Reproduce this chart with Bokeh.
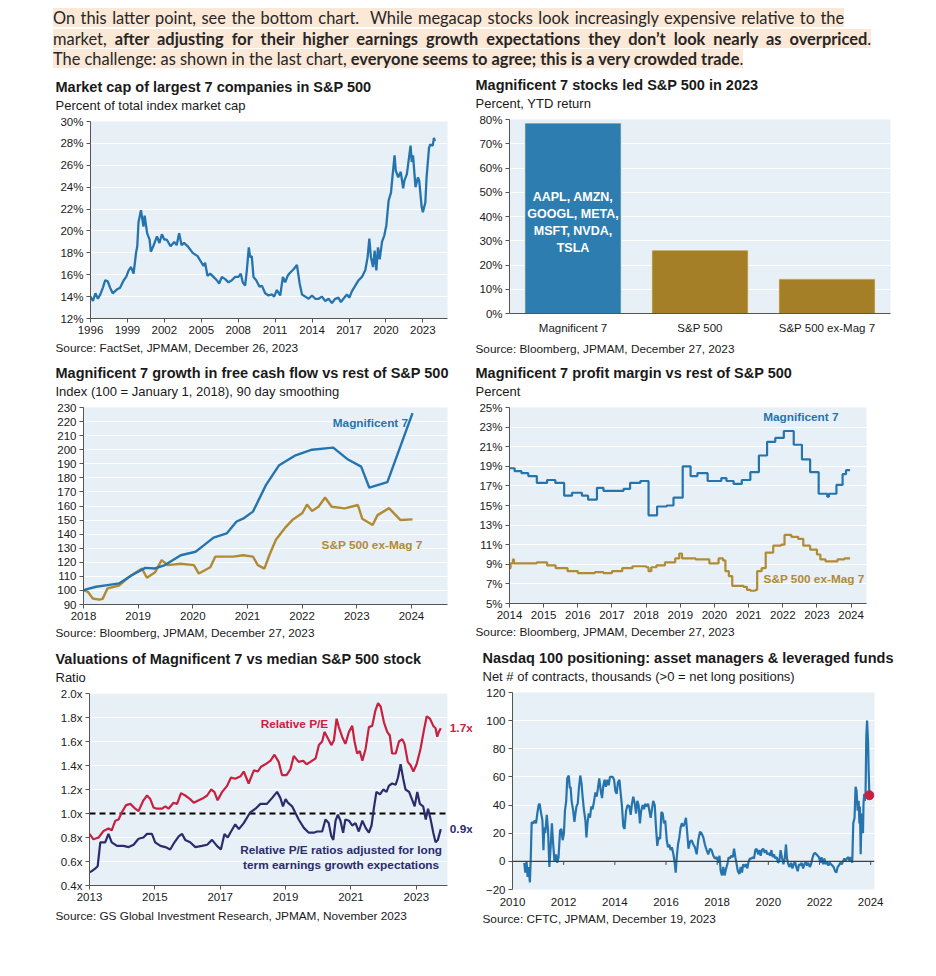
from bokeh.plotting import figure
from bokeh.models import (Range1d, FactorRange, FixedTicker, PrintfTickFormatter,
                          Title, Label, Span, Div, ColumnDataSource, BoxAnnotation)
from bokeh.layouts import column, row
from bokeh.embed import file_html
from bokeh.resources import INLINE

# ---------------- data ----------------
header_lines = [
    [("On this latter point, see the bottom chart.\u00a0 While megacap stocks look increasingly expensive relative to the", False)],
    [("market, ", False), ("after adjusting for their higher earnings growth expectations they don\u2019t look nearly as overpriced", True), (".", False)],
    [("The challenge: as shown in the last chart, ", False), ("everyone seems to agree; this is a very crowded trade", True), (".", False)],
]

# Panel 1: market cap share of largest 7 (year, %)
mktcap = [(1996.0,14.0),(1996.2,13.6),(1996.4,14.3),(1996.6,13.8),(1996.8,14.2),(1997.0,14.8),(1997.2,15.5),
          (1997.4,15.4),(1997.6,14.8),(1997.8,14.3),(1998.2,14.7),(1998.4,14.8),(1998.7,15.5),(1998.9,15.8),
          (1999.1,16.4),(1999.3,16.7),(1999.5,16.1),(1999.7,18.0),(1999.8,18.6),(1999.9,20.8),(2000.1,21.9),
          (2000.3,20.4),(2000.4,21.4),(2000.6,19.8),(2000.8,19.2),(2000.9,18.1),(2001.1,18.6),(2001.4,19.5),
          (2001.6,18.9),(2001.8,19.7),(2002.0,19.2),(2002.2,19.2),(2002.5,18.6),(2002.8,19.0),(2003.0,18.7),
          (2003.2,19.8),(2003.4,18.7),(2003.6,18.9),(2003.9,18.6),(2004.3,18.0),(2004.7,17.7),(2004.91,17.3),
          (2005.18,16.8),(2005.31,17.1),(2005.5,15.9),(2005.72,16.1),(2005.99,15.8),(2006.26,15.5),(2006.45,15.2),
          (2006.67,15.8),(2006.94,15.6),(2007.21,15.3),(2007.48,15.5),(2007.75,15.8),(2008.02,15.8),(2008.21,16.1),
          (2008.37,15.3),(2008.56,15.0),(2008.7,16.4),(2008.86,18.5),(2008.97,17.6),(2009.1,17.7),(2009.24,15.8),
          (2009.46,15.5),(2009.73,14.9),(2009.92,15.0),(2010.19,14.3),(2010.46,14.1),(2010.73,14.2),(2010.92,14.0),
          (2011.14,14.6),(2011.41,14.1),(2011.63,15.8),(2011.82,15.3),(2012.01,15.9),(2012.23,16.2),(2012.5,16.5),
          (2012.77,16.9),(2012.99,15.2),(2013.18,14.2),(2013.45,14.0),(2013.72,13.8),(2013.99,14.1),(2014.26,13.8),
          (2014.53,13.8),(2014.8,14.0),(2015.07,13.6),(2015.34,13.8),(2015.61,13.4),(2015.88,13.8),(2016.15,13.9),
          (2016.34,13.5),(2016.61,13.9),(2016.83,14.2),(2017.02,13.9),(2017.24,14.5),(2017.51,15.0),(2017.78,15.5),
          (2018.05,15.8),(2018.32,16.4),(2018.51,17.6),(2018.65,19.3),(2018.78,17.6),(2018.95,16.7),(2019.08,18.2),
          (2019.22,16.4),(2019.35,18.5),(2019.49,17.4),(2019.68,19.0),(2019.87,19.6),(2020.03,20.5),(2020.22,22.8),
          (2020.41,23.5),(2020.55,25.2),(2020.7,26.9),(2020.8,25.5),(2021.0,24.9),(2021.2,25.4),(2021.4,23.9),
          (2021.5,24.6),(2021.7,25.2),(2022.0,27.8),(2022.1,26.3),(2022.2,26.9),(2022.4,24.0),(2022.6,24.9),
          (2022.7,24.6),(2022.9,22.2),(2023.0,21.7),(2023.2,22.6),(2023.3,24.9),(2023.5,27.6),(2023.6,27.9),
          (2023.8,27.8),(2023.9,28.5),(2023.97,28.2)]
mktcap_xticks = [1996, 1999, 2002, 2005, 2008, 2011, 2014, 2017, 2020, 2023]
mktcap_yticks = [12, 14, 16, 18, 20, 22, 24, 26, 28, 30]

# Panel 2: YTD return bars
ytd_categories = ["Magnificent 7", "S&P 500", "S&P 500 ex-Mag 7"]
ytd_returns = [78.6, 26.2, 14.3]
mag7_tickers = ["AAPL", "AMZN", "GOOGL", "META", "MSFT", "NVDA", "TSLA"]
ytd_yticks = [0, 10, 20, 30, 40, 50, 60, 70, 80]

# Panel 3: free cash flow index
fcf_mag7 = [(2018.0,100.2),(2018.23,102.6),(2018.44,103.8),(2018.65,105),(2018.89,111),(2019.13,116),
            (2019.31,115.6),(2019.49,118),(2019.78,125),(2020.05,127.5),(2020.2,132),(2020.38,137.5),
            (2020.62,140.5),(2020.8,149),(2020.92,151),(2021.1,156),(2021.34,175),(2021.58,189),(2021.88,196),
            (2022.18,200),(2022.57,201.5),(2022.84,193),(2023.08,188),(2023.23,173),(2023.56,177),(2024.02,226)]
fcf_ex = [(2018.0,100),(2018.08,99),(2018.17,94.3),(2018.29,93.5),(2018.35,94),(2018.44,101.5),(2018.65,103.5),
          (2018.83,109.5),(2019.07,115.5),(2019.16,109),(2019.31,113),(2019.43,121.5),(2019.54,118),(2019.78,119),
          (2020.02,118),(2020.11,112),(2020.32,116.5),(2020.41,124),(2020.74,124),(2020.92,125),(2021.1,124),
          (2021.19,118),(2021.31,115.5),(2021.4,125),(2021.52,136),(2021.7,145),(2021.82,150),(2022.0,154.8),
          (2022.09,161),(2022.18,156.5),(2022.3,159.5),(2022.42,166),(2022.54,159.5),(2022.78,158.3),
          (2023.02,160.7),(2023.1,151),(2023.29,146.5),(2023.38,153.5),(2023.59,158.5),(2023.8,150),(2024.02,150.5)]
fcf_xticks = [2018, 2019, 2020, 2021, 2022, 2023, 2024]
fcf_yticks = [90, 100, 110, 120, 130, 140, 150, 160, 170, 180, 190, 200, 210, 220, 230]

# Panel 4: profit margins (step start, %)
pm_mag7 = [(2014.0,18.8),(2014.15,18.5),(2014.35,18.3),(2014.55,18.0),(2014.8,17.3),(2015.1,17.6),(2015.34,17.3),
           (2015.6,16.0),(2015.83,16.3),(2016.12,16.0),(2016.3,15.6),(2016.56,16.8),(2016.75,16.5),(2017.34,16.7),
           (2017.53,17.3),(2017.83,17.5),(2018.07,14.0),(2018.32,14.9),(2018.6,15.0),(2018.8,15.8),(2019.07,19.0),
           (2019.3,18.0),(2019.5,18.3),(2019.8,17.5),(2020.2,17.8),(2020.35,17.5),(2020.56,17.2),(2020.8,17.6),
           (2021.05,18.4),(2021.3,20.1),(2021.54,21.5),(2021.78,21.9),(2022.03,22.6),(2022.32,21.2),(2022.56,19.7),
           (2022.8,18.4),(2023.05,16.2),(2023.3,15.9),(2023.35,16.2),(2023.57,17.1),(2023.75,18.2),(2023.85,18.6),
           (2023.97,18.6)]
pm_ex = [(2014.0,8.6),(2014.03,9.1),(2014.1,9.5),(2014.13,9.1),(2014.5,9.1),(2014.8,9.2),(2015.1,8.9),(2015.35,8.6),
         (2015.7,8.3),(2016.0,8.1),(2016.5,8.2),(2016.75,8.1),(2017.0,8.3),(2017.3,8.6),(2017.6,8.8),(2018.0,8.7),
         (2018.07,8.3),(2018.15,8.7),(2018.3,8.9),(2018.55,9.2),(2018.85,9.6),(2018.97,10.1),(2019.05,9.6),
         (2019.45,9.5),(2019.85,9.1),(2020.12,9.6),(2020.25,9.4),(2020.32,8.3),(2020.42,7.8),(2020.52,6.8),
         (2020.85,6.7),(2020.95,6.4),(2021.05,6.3),(2021.2,6.4),(2021.25,8.3),(2021.38,8.6),(2021.5,10.2),
         (2021.72,10.9),(2021.95,11.0),(2022.05,12.0),(2022.25,11.8),(2022.45,11.6),(2022.6,10.9),(2022.8,10.5),
         (2023.0,10.0),(2023.1,9.5),(2023.25,9.3),(2023.6,9.5),(2023.8,9.6),(2023.97,9.6)]
pm_xticks = list(range(2014, 2025))
pm_yticks = [5, 7, 9, 11, 13, 15, 17, 19, 21, 23, 25]

# Panel 5: valuations (ratio)
rel_pe = [(2013.0,0.83),(2013.12,0.785),(2013.28,0.80),(2013.43,0.855),(2013.58,0.875),(2013.68,0.86),(2013.79,0.94),
          (2013.89,0.95),(2013.99,1.01),(2014.12,1.07),(2014.25,1.08),(2014.4,1.04),(2014.5,1.02),(2014.65,1.11),
          (2014.76,1.15),(2014.86,1.12),(2014.96,1.05),(2015.06,1.04),(2015.22,1.04),(2015.32,1.06),(2015.42,1.04),
          (2015.57,1.09),(2015.68,1.08),(2015.8,1.17),(2015.93,1.15),(2016.08,1.12),(2016.19,1.09),(2016.34,1.11),
          (2016.49,1.13),(2016.6,1.15),(2016.72,1.20),(2016.82,1.18),(2016.92,1.11),(2017.06,1.18),(2017.21,1.23),
          (2017.33,1.30),(2017.46,1.29),(2017.62,1.31),(2017.72,1.35),(2017.87,1.25),(2018.03,1.36),(2018.15,1.35),
          (2018.25,1.39),(2018.38,1.41),(2018.54,1.44),(2018.66,1.49),(2018.79,1.43),(2018.89,1.32),(2019.03,1.32),
          (2019.15,1.37),(2019.25,1.48),(2019.4,1.43),(2019.54,1.44),(2019.64,1.41),(2019.76,1.43),(2019.92,1.46),
          (2020.02,1.57),(2020.12,1.60),(2020.19,1.68),(2020.27,1.64),(2020.4,1.57),(2020.48,1.61),(2020.56,1.79),
          (2020.63,1.72),(2020.73,1.64),(2020.83,1.58),(2020.94,1.68),(2021.04,1.73),(2021.11,1.60),(2021.19,1.50),
          (2021.27,1.52),(2021.35,1.44),(2021.45,1.54),(2021.55,1.72),(2021.65,1.73),(2021.75,1.86),(2021.83,1.92),
          (2021.91,1.89),(2022.01,1.76),(2022.11,1.68),(2022.19,1.65),(2022.26,1.50),(2022.37,1.50),(2022.47,1.60),
          (2022.57,1.62),(2022.64,1.58),(2022.74,1.43),(2022.83,1.40),(2022.91,1.35),(2023.01,1.41),(2023.13,1.54),
          (2023.23,1.69),(2023.32,1.81),(2023.42,1.79),(2023.52,1.73),(2023.59,1.71),(2023.64,1.64),(2023.69,1.68),
          (2023.75,1.71)]
adj_pe = [(2013.0,0.51),(2013.07,0.52),(2013.17,0.54),(2013.25,0.56),(2013.33,0.76),(2013.48,0.76),(2013.58,0.83),
          (2013.68,0.76),(2013.84,0.73),(2014.04,0.73),(2014.2,0.72),(2014.35,0.74),(2014.5,0.79),(2014.65,0.80),
          (2014.76,0.83),(2014.91,0.83),(2015.01,0.76),(2015.17,0.73),(2015.32,0.72),(2015.47,0.70),(2015.6,0.76),
          (2015.73,0.81),(2015.83,0.83),(2015.93,0.78),(2016.08,0.76),(2016.24,0.72),(2016.44,0.73),(2016.6,0.74),
          (2016.75,0.78),(2016.9,0.73),(2017.02,0.70),(2017.13,0.83),(2017.23,0.80),(2017.31,0.84),(2017.46,0.91),
          (2017.57,0.87),(2017.72,0.92),(2017.92,1.01),(2018.08,1.04),(2018.23,1.08),(2018.43,1.08),(2018.59,1.13),
          (2018.74,1.18),(2018.84,1.13),(2018.92,1.06),(2019.0,1.12),(2019.07,1.09),(2019.2,1.06),(2019.4,0.95),
          (2019.56,0.88),(2019.71,0.84),(2019.86,0.84),(2019.97,0.85),(2020.12,0.85),(2020.22,0.95),(2020.32,0.92),
          (2020.4,0.81),(2020.46,0.78),(2020.53,0.94),(2020.6,0.99),(2020.68,0.94),(2020.76,0.84),(2020.83,0.95),
          (2020.94,0.94),(2021.04,0.90),(2021.14,0.92),(2021.24,0.85),(2021.35,0.94),(2021.45,0.88),(2021.55,0.84),
          (2021.63,0.90),(2021.7,1.04),(2021.78,1.18),(2021.89,1.16),(2021.99,1.20),(2022.09,1.18),(2022.16,1.23),
          (2022.26,1.25),(2022.37,1.24),(2022.44,1.30),(2022.52,1.41),(2022.6,1.29),(2022.67,1.20),(2022.78,1.18),
          (2022.88,1.11),(2022.95,1.06),(2023.03,1.18),(2023.11,1.08),(2023.21,1.06),(2023.29,0.95),(2023.36,1.04),
          (2023.44,0.95),(2023.52,0.84),(2023.59,0.76),(2023.66,0.78),(2023.75,0.87)]
val_parity = 1.0
val_xticks = [2013, 2015, 2017, 2019, 2021, 2023]
val_yticks = [0.4, 0.6, 0.8, 1.0, 1.2, 1.4, 1.6, 1.8, 2.0]

# Panel 6: Nasdaq 100 net positioning (thousand contracts)
nasdaq = [(2010.46,-1),(2010.5,-8),(2010.55,0),(2010.59,-11),(2010.63,-4),(2010.68,-15),(2010.71,0),(2010.75,28),
          (2010.81,27),(2010.87,29),(2010.92,27),(2010.97,34),(2011.02,40),(2011.06,41),(2011.11,35),(2011.17,29),
          (2011.21,8),(2011.24,24),(2011.28,20),(2011.34,33),(2011.39,22),(2011.44,-4),(2011.49,10),(2011.54,27),
          (2011.58,15),(2011.64,0),(2011.7,5),(2011.75,-1),(2011.8,3),(2011.86,22),(2011.91,23),(2011.96,15),
          (2012.01,20),(2012.05,36),(2012.1,43),(2012.14,59),(2012.2,61),(2012.24,52),(2012.27,53),(2012.31,43),
          (2012.37,36),(2012.42,28),(2012.46,34),(2012.5,39),(2012.55,41),(2012.6,53),(2012.65,61),(2012.7,55),
          (2012.74,46),(2012.79,37),(2012.85,29),(2012.89,17),(2012.93,27),(2012.98,34),(2013.03,31),(2013.08,39),
          (2013.13,37),(2013.19,43),(2013.24,49),(2013.29,46),(2013.34,52),(2013.39,59),(2013.45,50),(2013.5,45),
          (2013.55,54),(2013.6,58),(2013.65,53),(2013.71,58),(2013.76,54),(2013.81,60),(2013.86,60),(2013.92,60),
          (2013.97,58),(2014.02,50),(2014.07,48),(2014.12,56),(2014.18,58),(2014.23,48),(2014.28,39),(2014.33,25),
          (2014.38,23),(2014.44,36),(2014.5,40),(2014.57,39),(2014.62,33),(2014.67,41),(2014.72,46),(2014.78,41),
          (2014.83,34),(2014.88,43),(2014.93,40),(2014.98,27),(2015.03,36),(2015.09,40),(2015.14,37),(2015.19,41),
          (2015.24,39),(2015.3,41),(2015.35,36),(2015.4,31),(2015.45,37),(2015.5,43),(2015.56,40),(2015.61,24),
          (2015.66,11),(2015.71,17),(2015.77,16),(2015.82,35),(2015.87,34),(2015.92,27),(2015.97,29),(2016.03,15),
          (2016.08,10),(2016.13,12),(2016.18,8),(2016.23,10),(2016.29,5),(2016.34,-1),(2016.38,-8),(2016.42,3),
          (2016.47,12),(2016.52,17),(2016.57,24),(2016.62,27),(2016.68,25),(2016.73,27),(2016.78,31),(2016.83,20),
          (2016.88,9),(2016.94,14),(2017.0,15),(2017.07,12),(2017.13,10),(2017.2,5),(2017.26,15),(2017.33,21),
          (2017.39,20),(2017.46,17),(2017.52,12),(2017.59,8),(2017.65,5),(2017.72,9),(2017.78,8),(2017.85,4),
          (2017.91,2),(2017.98,3),(2018.05,-1),(2018.09,4),(2018.14,-7),(2018.19,-10),(2018.24,-4),(2018.29,-10),
          (2018.35,-5),(2018.4,-2),(2018.45,3),(2018.5,2),(2018.55,4),(2018.61,3),(2018.66,9),(2018.71,3),
          (2018.76,-2),(2018.81,-7),(2018.87,-9),(2018.92,-4),(2018.97,-8),(2019.02,-2),(2019.07,-4),(2019.13,-2),
          (2019.18,-5),(2019.23,0),(2019.28,2),(2019.34,2),(2019.39,3),(2019.44,2),(2019.49,8),(2019.54,9),
          (2019.6,5),(2019.65,8),(2019.7,4),(2019.75,8),(2019.8,9),(2019.86,6),(2019.91,8),(2019.96,5),(2020.01,6),
          (2020.07,4),(2020.12,8),(2020.17,3),(2020.22,5),(2020.27,2),(2020.33,3),(2020.38,-1),(2020.43,0),
          (2020.48,8),(2020.53,3),(2020.59,-2),(2020.64,2),(2020.69,12),(2020.73,2),(2020.78,-2),(2020.83,-4),
          (2020.89,-1),(2020.94,-5),(2020.99,-2),(2021.04,0),(2021.09,-4),(2021.15,-7),(2021.2,-2),(2021.25,-3),
          (2021.3,-1),(2021.36,-5),(2021.41,-2),(2021.46,0),(2021.51,-3),(2021.56,-1),(2021.62,-4),(2021.67,-2),
          (2021.72,2),(2021.77,5),(2021.82,6),(2021.88,5),(2021.93,4),(2021.98,3),(2022.03,-1),(2022.08,3),
          (2022.14,-2),(2022.19,2),(2022.24,-2),(2022.29,0),(2022.35,-3),(2022.4,-1),(2022.45,-2),(2022.5,-3),
          (2022.55,-4),(2022.61,-7),(2022.66,-8),(2022.71,-4),(2022.76,-3),(2022.81,-1),(2022.87,-2),(2022.92,0),
          (2022.97,2),(2023.02,0),(2023.07,2),(2023.13,3),(2023.18,0),(2023.23,3),(2023.28,-1),(2023.32,27),
          (2023.37,31),(2023.41,53),(2023.45,50),(2023.49,36),(2023.53,43),(2023.56,27),(2023.58,39),(2023.61,5),
          (2023.63,22),(2023.66,34),(2023.7,20),(2023.72,41),(2023.75,48),(2023.77,43),(2023.8,48),(2023.83,89),
          (2023.86,100),(2023.9,84),(2023.92,65),(2023.95,47)]
nasdaq_xticks = [2010, 2012, 2014, 2016, 2018, 2020, 2022, 2024]
nasdaq_yticks = [-20, 0, 20, 40, 60, 80, 100, 120]

# ---------------- style ----------------
FONT = "Liberation Sans"
BG = "#E8F0F7"
BLUE = "#2574AE"
GOLD = "#B08B33"
BAR_BLUE = "#2E7DB0"
BAR_GOLD = "#A57F27"
NAVY = "#2A2C6C"
RED = "#C8203F"
AXIS = "#555555"
TXT = "#1a1a1a"


def xs(series):
    return [a for a, _ in series]


def ys(series):
    return [b for _, b in series]


def panel(width, height, x_range, y_range, borders, title, subtitle, source, shift, src_standoff=5, bg=BG):
    l, r, t, b = borders
    p = figure(width=width, height=height, x_range=x_range, y_range=y_range,
               output_backend="svg", toolbar_location=None,
               min_border_left=l, min_border_right=r, min_border_top=t, min_border_bottom=b,
               background_fill_color=bg, border_fill_color="white", outline_line_color=None,
               title=title)
    p.title.text_font = FONT
    p.title.text_font_size = "14.5px"
    p.title.text_font_style = "bold"
    p.title.text_color = TXT
    p.title.align = "left"
    p.title.offset = shift
    p.title.standoff = -14
    p.add_layout(Title(text=subtitle, align="left", offset=shift, text_font=FONT, text_font_size="13px",
                       text_font_style="normal", text_color=TXT, standoff=17), "above")
    p.add_layout(Title(text=source, align="left", offset=shift, text_font=FONT, text_font_size="11.8px",
                       text_font_style="normal", text_color=TXT, standoff=src_standoff), "below")
    for ax in (p.xaxis[0], p.yaxis[0]):
        ax.axis_line_color = AXIS
        ax.major_tick_line_color = AXIS
        ax.major_tick_out = 4
        ax.major_tick_in = 0
        ax.minor_tick_line_color = None
        ax.major_label_text_font = FONT
        ax.major_label_text_font_size = "11.5px"
        ax.major_label_text_color = TXT
        ax.major_label_standoff = 3
    p.xgrid.grid_line_color = None
    p.ygrid.grid_line_color = "white"
    p.ygrid.grid_line_width = 1.2
    return p


def label(p, x, y, text, color, align="center", size="11.8px", x_offset=0, y_offset=0):
    p.add_layout(Label(x=x, y=y, text=text, text_color=color, text_align=align, text_baseline="middle",
                       text_font=FONT, text_font_size=size, text_font_style="bold",
                       x_offset=x_offset, y_offset=y_offset, text_line_height=1.1))


# ---------------- header ----------------
word_spacing = ["1.3px", "4px", "0px"]
lines_html = []
for parts, ws in zip(header_lines, word_spacing):
    inner = "".join(("<b>%s</b>" % t) if bold else t for t, bold in parts)
    lines_html.append('<span style="background:#FCE8D6;word-spacing:%s;">%s</span>' % (ws, inner))
header_html = ('<div style="font-family:Lato,\'Liberation Sans Narrow\',sans-serif;font-size:16.4px;'
               'line-height:20.5px;color:#262626;padding-left:53px;padding-top:8px;white-space:nowrap;">'
               + "<br>".join(lines_html) + "</div>")
header = Div(text=header_html, width=928, height=75, margin=(0, 0, 0, 0))

# ---------------- panel 1 ----------------
p1 = panel(460, 287, Range1d(1996, 2025), Range1d(12, 30), (90, 13, 46, 44),
           "Market cap of largest 7 companies in S&P 500", "Percent of total index market cap",
           "Source: FactSet, JPMAM, December 26, 2023", -35, src_standoff=4)
p1.xaxis.ticker = FixedTicker(ticks=mktcap_xticks)
p1.yaxis.ticker = FixedTicker(ticks=mktcap_yticks)
p1.yaxis.formatter = PrintfTickFormatter(format="%d%%")
p1.line(xs(mktcap), ys(mktcap), line_color=BLUE, line_width=2.3)

# ---------------- panel 2 ----------------
p2 = panel(468, 287, FactorRange(factors=ytd_categories, range_padding=0), Range1d(0, 80), (49, 38, 44, 49),
           "Magnificent 7 stocks led S&P 500 in 2023", "Percent, YTD return",
           "Source: Bloomberg, JPMAM, December 27, 2023", -34, src_standoff=7)
p2.yaxis.ticker = FixedTicker(ticks=ytd_yticks)
p2.yaxis.formatter = PrintfTickFormatter(format="%d%%")
p2.xaxis.major_tick_line_color = None
p2.xaxis.major_label_standoff = 4
src2 = ColumnDataSource(dict(cat=ytd_categories, val=ytd_returns, color=[BAR_BLUE, BAR_GOLD, BAR_GOLD]))
p2.vbar(x="cat", top="val", width=0.76, fill_color="color", line_color="#F4EFE0", line_width=1, source=src2)
ticker_text = "%s, %s,\n%s, %s,\n%s, %s,\n%s" % tuple(mag7_tickers)
p2.text(x=[ytd_categories[0]], y=[ytd_returns[0] / 2], text=[ticker_text], text_align="center",
        text_baseline="middle", text_color="white", text_font_size="12.5px", text_font_style="bold",
        text_font={"value": FONT}, text_line_height=1.22, y_offset=4)

# ---------------- panel 3 ----------------
p3 = panel(460, 283, Range1d(2018, 2024.66), Range1d(90, 230), (83, 13, 45, 41),
           "Magnificent 7 growth in free cash flow vs rest of S&P 500",
           "Index (100 = January 1, 2018), 90 day smoothing",
           "Source: Bloomberg, JPMAM, December 27, 2023", -28, src_standoff=3)
p3.xaxis.ticker = FixedTicker(ticks=fcf_xticks)
p3.yaxis.ticker = FixedTicker(ticks=fcf_yticks)
p3.line(xs(fcf_ex), ys(fcf_ex), line_color=GOLD, line_width=2.4)
p3.line(xs(fcf_mag7), ys(fcf_mag7), line_color=BLUE, line_width=2.4)
label(p3, 2023.25, 219, "Magnificent 7", BLUE)
label(p3, 2023.28, 132, "S&P 500 ex-Mag 7", GOLD)

# ---------------- panel 4 ----------------
p4 = panel(468, 283, Range1d(2014, 2024.45), Range1d(5, 25), (49, 62, 45, 42),
           "Magnificent 7 profit margin vs rest of S&P 500", "Percent",
           "Source: Bloomberg, JPMAM, December 27, 2023", -34, src_standoff=3)
p4.xaxis.ticker = FixedTicker(ticks=pm_xticks)
p4.yaxis.ticker = FixedTicker(ticks=pm_yticks)
p4.yaxis.formatter = PrintfTickFormatter(format="%d%%")
p4.step(xs(pm_ex), ys(pm_ex), mode="after", line_color=GOLD, line_width=2.2)
p4.step(xs(pm_mag7), ys(pm_mag7), mode="after", line_color=BLUE, line_width=2.2)
label(p4, 2022.53, 24.0, "Magnificent 7", BLUE)
label(p4, 2023.09, 7.54, "S&P 500 ex-Mag 7", GOLD, x_offset=-6)

# ---------------- panel 5 ----------------
val_x0, val_x1 = 2013, 2023.95
p5 = panel(478, 290, Range1d(val_x0, 2024.72), Range1d(0.4, 2.0), (89, 6, 48, 50),
           "Valuations of Magnificent 7 vs median S&P 500 stock", "Ratio",
           "Source: GS Global Investment Research, JPMAM, November 2023", -34, src_standoff=6, bg="white")
p5.add_layout(BoxAnnotation(left=val_x0, right=val_x1, fill_color=BG, fill_alpha=1.0,
                            line_color=None, level="image"))
p5.xaxis.bounds = (val_x0, val_x1)
p5.xaxis.ticker = FixedTicker(ticks=val_xticks)
p5.yaxis.ticker = FixedTicker(ticks=val_yticks)
p5.yaxis.formatter = PrintfTickFormatter(format="%.1fx")
p5.line([val_x0, val_x1], [val_parity, val_parity], line_color="black", line_width=2, line_dash="6 4")
p5.line(xs(rel_pe), ys(rel_pe), line_color=RED, line_width=2.2)
p5.line(xs(adj_pe), ys(adj_pe), line_color=NAVY, line_width=2.2)
label(p5, 2019.27, 1.75, "Relative P/E", RED)
label(p5, 2020.7, 0.634, "Relative P/E ratios adjusted for long\nterm earnings growth expectations", NAVY)
label(p5, rel_pe[-1][0], rel_pe[-1][1], "%.1fx" % rel_pe[-1][1], RED, align="left", x_offset=9)
label(p5, adj_pe[-1][0], adj_pe[-1][1], "%.1fx" % adj_pe[-1][1], NAVY, align="left", x_offset=9)

# ---------------- panel 6 ----------------
p6 = panel(450, 290, Range1d(2010, 2024.15), Range1d(-20, 120), (34, 54, 47, 46),
           "Nasdaq 100 positioning: asset managers & leveraged funds",
           "Net # of contracts, thousands (>0 = net long positions)",
           "Source: CFTC, JPMAM, December 19, 2023", -30, src_standoff=2)
p6.xaxis.ticker = FixedTicker(ticks=nasdaq_xticks)
p6.yaxis.ticker = FixedTicker(ticks=nasdaq_yticks)
p6.xaxis.axis_line_color = None
p6.xaxis.major_tick_line_color = None
p6.xaxis.major_tick_out = 0
p6.xaxis.major_label_standoff = 8
p6.add_layout(Span(location=0, dimension="width", line_color="#404040", line_width=1.3))
p6.segment(x0=nasdaq_xticks, y0=[0] * len(nasdaq_xticks), x1=nasdaq_xticks, y1=[-2.5] * len(nasdaq_xticks),
           line_color="#404040", line_width=1)
p6.line(xs(nasdaq), ys(nasdaq), line_color=BLUE, line_width=2.2)
p6.scatter([nasdaq[-1][0]], [nasdaq[-1][1]], size=9, fill_color=RED, line_color=RED)

layout = column(header,
                row(column(p1), column(p2)),
                row(column(p3), column(p4)),
                row(column(p5), column(p6)))
open("out.html", "w").write(file_html(layout, INLINE))
